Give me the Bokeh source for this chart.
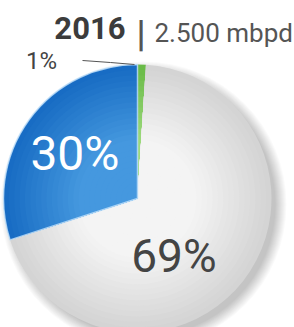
import numpy as np
from bokeh.plotting import figure
from bokeh.core.properties import value
from bokeh.embed import file_html
from bokeh.resources import INLINE

# ---- data ----
categories = ["Other", "Rest", "Main"]
labels = ["1%", "69%", "30%"]
shares = [1, 69, 30]
year = "2016"
total = "2.500 mbpd"

# ---- layout / style ----
W, H = 294, 327
cx, cy, R = 137, 129, 134
FONT = "Roboto"

p = figure(width=W, height=H, x_range=(0, W), y_range=(0, H),
           x_axis_type=None, y_axis_type=None, toolbar_location=None,
           output_backend="svg", min_border=0)
p.grid.visible = False
p.outline_line_color = None
p.background_fill_color = "white"
p.border_fill_color = "white"

vals = np.array(shares, dtype=float)
cum = np.concatenate([[0], np.cumsum(vals)]) / vals.sum()
starts = np.pi / 2 - cum[:-1] * 2 * np.pi
ends = np.pi / 2 - cum[1:] * 2 * np.pi
mids = (starts + ends) / 2

# soft shadow (bottom-right)
for k in range(12):
    p.circle(x=cx + 6, y=cy - 6, radius=R + 9 - k, fill_color="#000000",
             fill_alpha=0.018, line_color=None)

base_cols = [
    ((0x6a, 0xbb, 0x48), (0x9c, 0xd9, 0x7c)),   # green
    ((0xd4, 0xd4, 0xd4), (0xf4, 0xf4, 0xf4)),   # gray
    ((0x18, 0x6c, 0xc4), (0x45, 0x98, 0xdf)),   # blue
]
nl = 24
for i in range(3):
    c0, c1 = base_cols[i]
    for j in range(nl):
        t = j / (nl - 1)
        f = min(1.0, t * 1.7)
        col = "#%02x%02x%02x" % tuple(int(c0[m] + (c1[m] - c0[m]) * f) for m in range(3))
        rr = R * (1 - 0.92 * t)
        p.wedge(x=cx, y=cy, radius=rr, start_angle=starts[i], end_angle=ends[i],
                direction="clock", fill_color=col, line_color=None)

# light rim on blue slice
p.wedge(x=cx, y=cy, radius=R, start_angle=starts[2], end_angle=ends[2],
        direction="clock", fill_color=None, line_color="#c4e2fa", line_width=1.5, line_alpha=0.8)

# slice labels
lab_r = [None, 0.505, 0.577]
lab_ang = [None, np.deg2rad(-57.4), mids[2]]
p.text(x=[cx + lab_r[2] * R * np.cos(lab_ang[2])], y=[cy + lab_r[2] * R * np.sin(lab_ang[2])],
       text=[labels[2]], text_color="white", text_font=value(FONT),
       text_font_size="48px", text_align="center", text_baseline="middle")
p.text(x=[cx + lab_r[1] * R * np.cos(lab_ang[1])], y=[cy + lab_r[1] * R * np.sin(lab_ang[1])],
       text=[labels[1]], text_color="#444444", text_font=value(FONT),
       text_font_size="46px", text_align="center", text_baseline="middle")

# 1% label with leader line
top_y = cy + R
p.line(x=[82, 110, cx - 3], y=[top_y + 4, top_y + 2, top_y], line_color="#555555", line_width=1)
p.text(x=[41], y=[top_y + 4], text=[labels[0]], text_color="#444444", text_font=value(FONT),
       text_font_size="24px", text_align="center", text_baseline="middle")

# title
p.text(x=[125], y=[300], text=[year], text_color="#3c3c3c", text_font=value(FONT),
       text_font_size="31px", text_font_style="bold", text_align="right", text_baseline="middle")
p.text(x=[140.5], y=[294], text=["|"], text_color="#555555", text_font=value(FONT),
       text_font_size="36px", text_font_style="bold", text_align="center", text_baseline="middle")
p.text(x=[154], y=[295], text=[total], text_color="#555555", text_font=value(FONT),
       text_font_size="26px", text_align="left", text_baseline="middle")

open("out.html", "w").write(file_html(p, INLINE))
